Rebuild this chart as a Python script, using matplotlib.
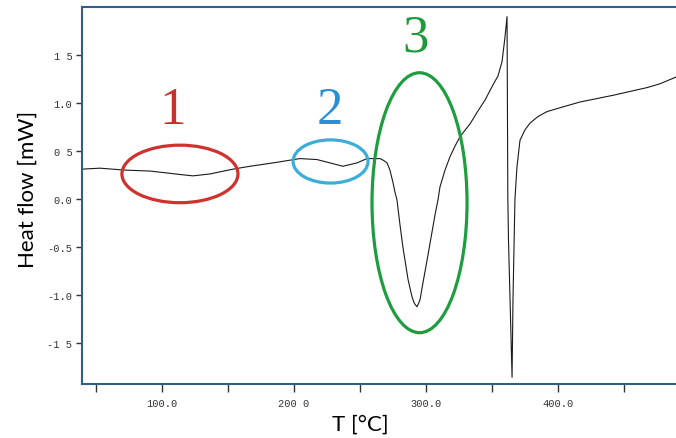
import matplotlib.pyplot as plt
from matplotlib.patches import Ellipse

# ---------------------------- data ----------------------------
T = [39.4, 53.0, 72.0, 90.9, 103.8, 113.0, 123.5, 136.4, 145.0, 153.8, 166.7, 184.1,
     204.5, 217.4, 227.3, 237.1, 247.7, 255.3, 265.2, 268.0, 270.5, 272.7, 275.0,
     276.5, 278.0, 280.3, 282.6, 284.1, 286.4, 289.4, 290.9, 291.7, 293.2, 294.7, 295.5,
     297.7, 300.8, 304.5, 306.8, 309.1, 310.6, 314.4, 318.2, 322.0, 325.8,
     333.3, 338.6, 344.7, 350.8, 354.5, 357.6, 359.8, 361.4, 362.0, 362.5, 365.2, 365.9,
     367.4, 368.9, 371.2, 375.0, 378.8, 385.0, 391.7, 404.0, 416.7, 441.7, 467.4, 477.3, 489.4]
heat_flow = [0.31, 0.32, 0.30, 0.29, 0.27, 0.255, 0.24, 0.26, 0.285, 0.31, 0.34, 0.375,
             0.42, 0.41, 0.375, 0.34, 0.375, 0.42, 0.42, 0.40, 0.375, 0.30, 0.17,
             0.07, -0.01, -0.27, -0.51, -0.64, -0.84, -1.02, -1.08, -1.10, -1.125, -1.08, -1.05,
             -0.875, -0.64, -0.35, -0.17, -0.01, 0.125, 0.30, 0.44, 0.55, 0.65,
             0.78, 0.90, 1.03, 1.19, 1.28, 1.43, 1.68, 1.90, 0.0, -0.43, -1.86, -1.05,
             0.0, 0.33, 0.61, 0.72, 0.79, 0.86, 0.91, 0.96, 1.01, 1.08, 1.16, 1.20, 1.27]

# marked regions: label, centre T, centre y, width, height, colour
regions = ['1', '2', '3']
reg_T = [113.6, 227.7, 295.1]
reg_y = [0.26, 0.39, -0.04]
reg_w = [87.9, 56.8, 72.0]
reg_h = [0.60, 0.45, 2.71]
reg_color = ['#d0312d', '#3aaed8', '#1d9e3e']
label_T = [108.0, 226.9, 291.7]
label_y = [0.93, 0.93, 1.68]
label_color = ['#c8302c', '#2a8fd6', '#1d9a3c']

x_major = [100, 200, 300, 400]
x_labels = ['100.0', '200 0', '300.0', '400.0']
x_minor = [50, 150, 250, 350, 450]
y_ticks = [-1.5, -1.0, -0.5, 0.0, 0.5, 1.0, 1.5]
y_labels = ['-1 5', '-1.0', '-0.5', '0.0', '0 5', '1.0', '1 5']

# ------------------------------------- plot -------------------------------------------
fig = plt.figure(figsize=(6.76, 4.39), dpi=100)
ax = fig.add_axes([0.1213, 0.123, 0.8787, 0.8587])

ax.plot(T, heat_flow, color='#1a1a1a', linewidth=0.8)

for i in range(len(regions)):
    ax.add_patch(Ellipse((reg_T[i], reg_y[i]), reg_w[i], reg_h[i], fill=False,
                         edgecolor=reg_color[i], linewidth=2.3, zorder=3))
    ax.text(label_T[i], label_y[i], regions[i], color=label_color[i], fontsize=38,
            family='Liberation Serif', ha='center', va='center')

ax.set_xlim(39.4, 489.4)
ax.set_ylim(-1.93, 2.0)

spine_col = '#2f5f8f'
for s in ['left', 'top', 'bottom']:
    ax.spines[s].set_color(spine_col)
    ax.spines[s].set_linewidth(1.5)
ax.spines['right'].set_visible(False)

ax.set_xticks(x_major)
ax.set_xticklabels(x_labels)
ax.set_xticks(x_minor, minor=True)
ax.set_yticks(y_ticks)
ax.set_yticklabels(y_labels)
ax.tick_params(axis='x', which='both', direction='out', length=6, width=1.0,
               color='#333333', pad=4)
ax.tick_params(axis='y', direction='out', length=4, width=1.0, color='#333333', pad=3)
for lab in ax.get_xticklabels() + ax.get_yticklabels():
    lab.set_family('Liberation Mono')
    lab.set_fontsize(7.5)
    lab.set_color('#333333')

ax.set_xlabel('T [°C]', fontsize=16, family='Lato', va='center')
ax.xaxis.set_label_coords(0.469, -0.106)
ax.set_ylabel('Heat flow [mW]', fontsize=16, family='Lato', va='center')
ax.yaxis.set_label_coords(-0.091, 0.52)

plt.savefig('out.png', dpi=100)
